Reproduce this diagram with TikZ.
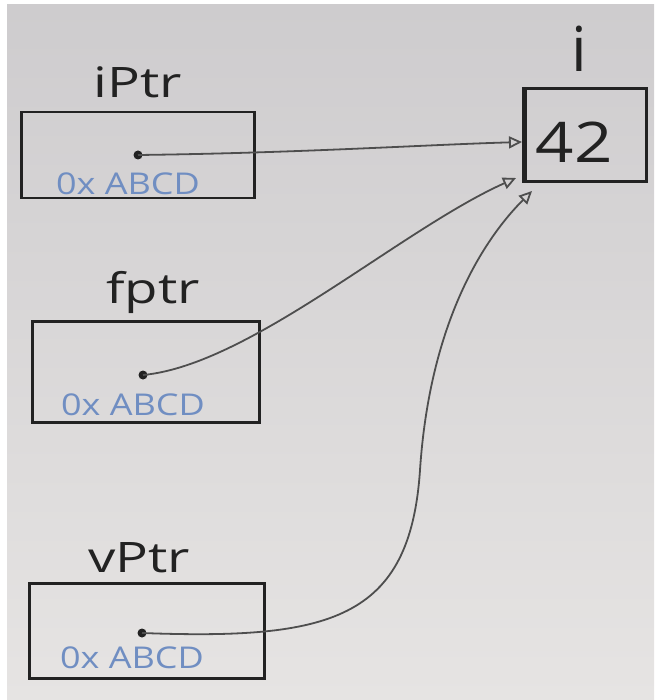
\documentclass[tikz,border=0pt]{standalone}
\usepackage{graphicx}
\usepackage{fontspec}
\setmainfont{Open Sans}
\usetikzlibrary{arrows.meta}
\definecolor{paperA}{RGB}{206,204,206}
\definecolor{paperB}{RGB}{230,228,227}
\definecolor{ink}{RGB}{34,34,34}
\definecolor{wire}{RGB}{78,78,78}
\definecolor{penblue}{RGB}{112,142,194}
\begin{document}
\begin{tikzpicture}[x=1pt,y=-1pt,
  membox/.style={draw=ink, line width=2.6pt, inner sep=0pt},
  namelabel/.style={anchor=base, text=ink, inner sep=0pt, font=\fontsize{42}{42}\selectfont},
  addrlabel/.style={anchor=base, text=penblue, inner sep=0pt, font=\fontsize{30}{30}\selectfont},
  dotnode/.style={circle, fill=ink, minimum size=9pt, inner sep=0pt},
  wireline/.style={draw=wire, line width=1.8pt, -{Triangle[open, length=13pt, width=12pt, line width=1.8pt]}}]
\useasboundingbox (0,0) rectangle (654,700);
\fill[white] (0,0) rectangle (654,700);
\shade[top color=paperA, bottom color=paperB] (7,5) rectangle (654,700);

% memory cells
\node[membox, minimum width=233pt, minimum height=86pt] (iptr) at (138,155) {};
\node[membox, minimum width=227pt, minimum height=101pt] (fptr) at (146,372) {};
\node[membox, minimum width=235pt, minimum height=95pt] (vptr) at (147,631) {};
\node[membox, minimum width=121pt, minimum height=93pt] (ibox) at (586,135) {};
\draw[ink, line width=4pt] (ibox.north west) -- (ibox.south west);

% names
\node[namelabel] (iptrname) at (138,98) {\scalebox{1.3}[1]{iPtr}};
\node[namelabel] (fptrname) at (153,303) {\scalebox{1.3}[1]{fptr}};
\node[namelabel] (vptrname) at (139,572) {\scalebox{1.3}[1]{vPtr}};
\node[namelabel, font=\fontsize{62}{62}\selectfont] (iname) at (579,72) {i};

% values
\node[namelabel, font=\fontsize{56}{56}\selectfont] (ival) at (574,163) {\scalebox{1.2}[1]{42}};
\node[addrlabel] (iaddr) at (128,195) {\scalebox{1.2}[1]{0x ABCD}};
\node[addrlabel] (faddr) at (133,415) {\scalebox{1.2}[1]{0x ABCD}};
\node[addrlabel] (vaddr) at (132,668) {\scalebox{1.2}[1]{0x ABCD}};

% pointer origins
\node[dotnode] (idot) at (138,155) {};
\node[dotnode] (fdot) at (143,375) {};
\node[dotnode] (vdot) at (142,633) {};

% arrow targets on the left of cell i
\coordinate (t1) at (522,142);
\coordinate (t2) at (516,178);
\coordinate (t3) at (532,191);
\coordinate (vmid) at (420,470);

% pointers
\draw[wireline] (idot.center) .. controls (300,153) and (420,145) .. (t1);
\draw[wireline] (fdot.center) .. controls (250,365) and (400,230) .. (t2);
\draw[draw=wire, line width=1.8pt] (vdot.center) .. controls (330,640) and (410,620) .. (vmid);
\draw[wireline] (vmid) .. controls (430,320) and (485,238) .. (t3);
\end{tikzpicture}
\end{document}
